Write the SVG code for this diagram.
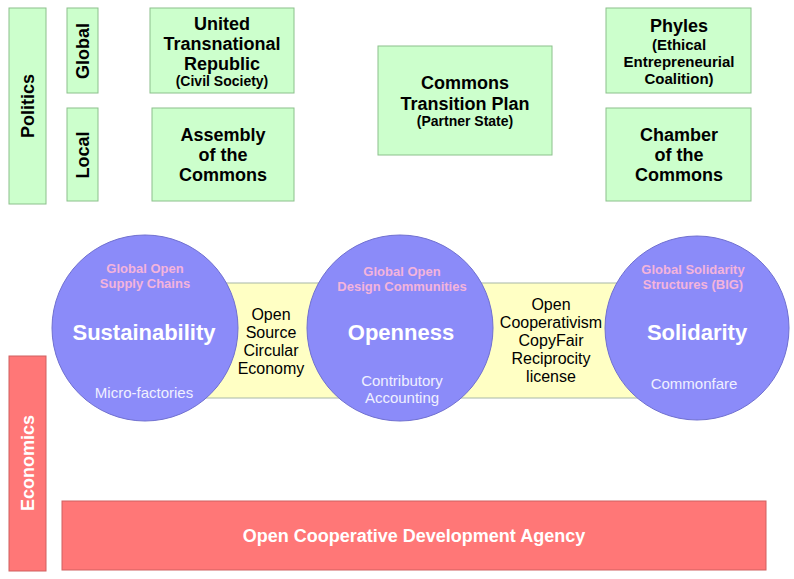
<svg xmlns="http://www.w3.org/2000/svg" width="794" height="579" viewBox="0 0 794 579">
<style>
.g{fill:#ccffcc;stroke:#8cc08c;stroke-width:1}
.r{fill:#ff7777;stroke:#d06060;stroke-width:1}
.c{fill:#8b8bf9;stroke:#7070d0;stroke-width:1}
.y{fill:#ffffc4;stroke:#a8b8a8;stroke-width:1}
text{font-family:"Liberation Sans",Arial,sans-serif;text-anchor:middle}
.t{font-weight:bold;font-size:18px;fill:#000}
.s{font-weight:bold;font-size:14px;fill:#000}
.p{font-weight:bold;font-size:15px;fill:#000}
.pk{font-weight:bold;font-size:13px;fill:#f4b4dc}
.big{font-weight:bold;font-size:22px;fill:#fff}
.w{font-size:15px;fill:#f0f0ff}
.k{font-size:16px;fill:#000}
.wt{font-weight:bold;font-size:18px;fill:#fff}
</style>
<g id="politics"><rect class="g" x="9" y="8" width="37" height="196"/><text class="t" transform="translate(34,106) rotate(-90)">Politics</text></g>
<g id="global"><rect class="g" x="67" y="8" width="31" height="85"/><text class="t" transform="translate(89,51) rotate(-90)">Global</text></g>
<g id="local"><rect class="g" x="67" y="108" width="31" height="93"/><text class="t" transform="translate(89,155) rotate(-90)">Local</text></g>
<g id="utr"><rect class="g" x="150" y="8" width="144" height="85"/><text class="t" x="222" y="30">United</text><text class="t" x="222" y="50">Transnational</text><text class="t" x="222" y="70">Republic</text><text class="s" x="222" y="86">(Civil Society)</text></g>
<g id="assembly"><rect class="g" x="152" y="108" width="142" height="93"/><text class="t" x="223" y="141">Assembly</text><text class="t" x="223" y="161">of the</text><text class="t" x="223" y="181">Commons</text></g>
<g id="ctp"><rect class="g" x="378" y="46" width="174" height="109"/><text class="t" x="465" y="89">Commons</text><text class="t" x="465" y="110">Transition Plan</text><text class="s" x="465" y="126">(Partner State)</text></g>
<g id="phyles"><rect class="g" x="606" y="8" width="145" height="85"/><text class="t" x="679" y="32">Phyles</text><text class="p" x="679" y="50">(Ethical</text><text class="p" x="679" y="67">Entrepreneurial</text><text class="p" x="679" y="84">Coalition)</text></g>
<g id="chamber"><rect class="g" x="606" y="108" width="145" height="93"/><text class="t" x="679" y="141">Chamber</text><text class="t" x="679" y="161">of the</text><text class="t" x="679" y="181">Commons</text></g>
<g id="band"><rect class="y" x="175" y="283" width="525" height="115"/></g>
<g id="yellow1"><text class="k" x="271" y="320">Open</text><text class="k" x="271" y="338">Source</text><text class="k" x="271" y="356">Circular</text><text class="k" x="271" y="374">Economy</text></g>
<g id="yellow2"><text class="k" x="551" y="310">Open</text><text class="k" x="551" y="328">Cooperativism</text><text class="k" x="551" y="346">CopyFair</text><text class="k" x="551" y="364">Reciprocity</text><text class="k" x="551" y="382">license</text></g>
<g id="sustainability"><circle class="c" cx="145" cy="328" r="93"/><text class="pk" x="145" y="273">Global Open</text><text class="pk" x="145" y="288">Supply Chains</text><text class="big" x="144" y="340">Sustainability</text><text class="w" x="144" y="398">Micro-factories</text></g>
<g id="openness"><circle class="c" cx="400" cy="328" r="93"/><text class="pk" x="402" y="276">Global Open</text><text class="pk" x="402" y="291">Design Communities</text><text class="big" x="401" y="340">Openness</text><text class="w" x="402" y="386">Contributory</text><text class="w" x="402" y="403">Accounting</text></g>
<g id="solidarity"><circle class="c" cx="697" cy="328" r="92"/><text class="pk" x="693" y="274">Global Solidarity</text><text class="pk" x="693" y="289">Structures (BIG)</text><text class="big" x="697" y="340">Solidarity</text><text class="w" x="694" y="389">Commonfare</text></g>
<g id="economics"><rect class="r" x="9" y="356" width="37" height="215"/><text class="wt" transform="translate(34,463) rotate(-90)">Economics</text></g>
<g id="agency"><rect class="r" x="62" y="501" width="704" height="69"/><text class="wt" x="414" y="542">Open Cooperative Development Agency</text></g>
<g id="connectors"></g>
</svg>
